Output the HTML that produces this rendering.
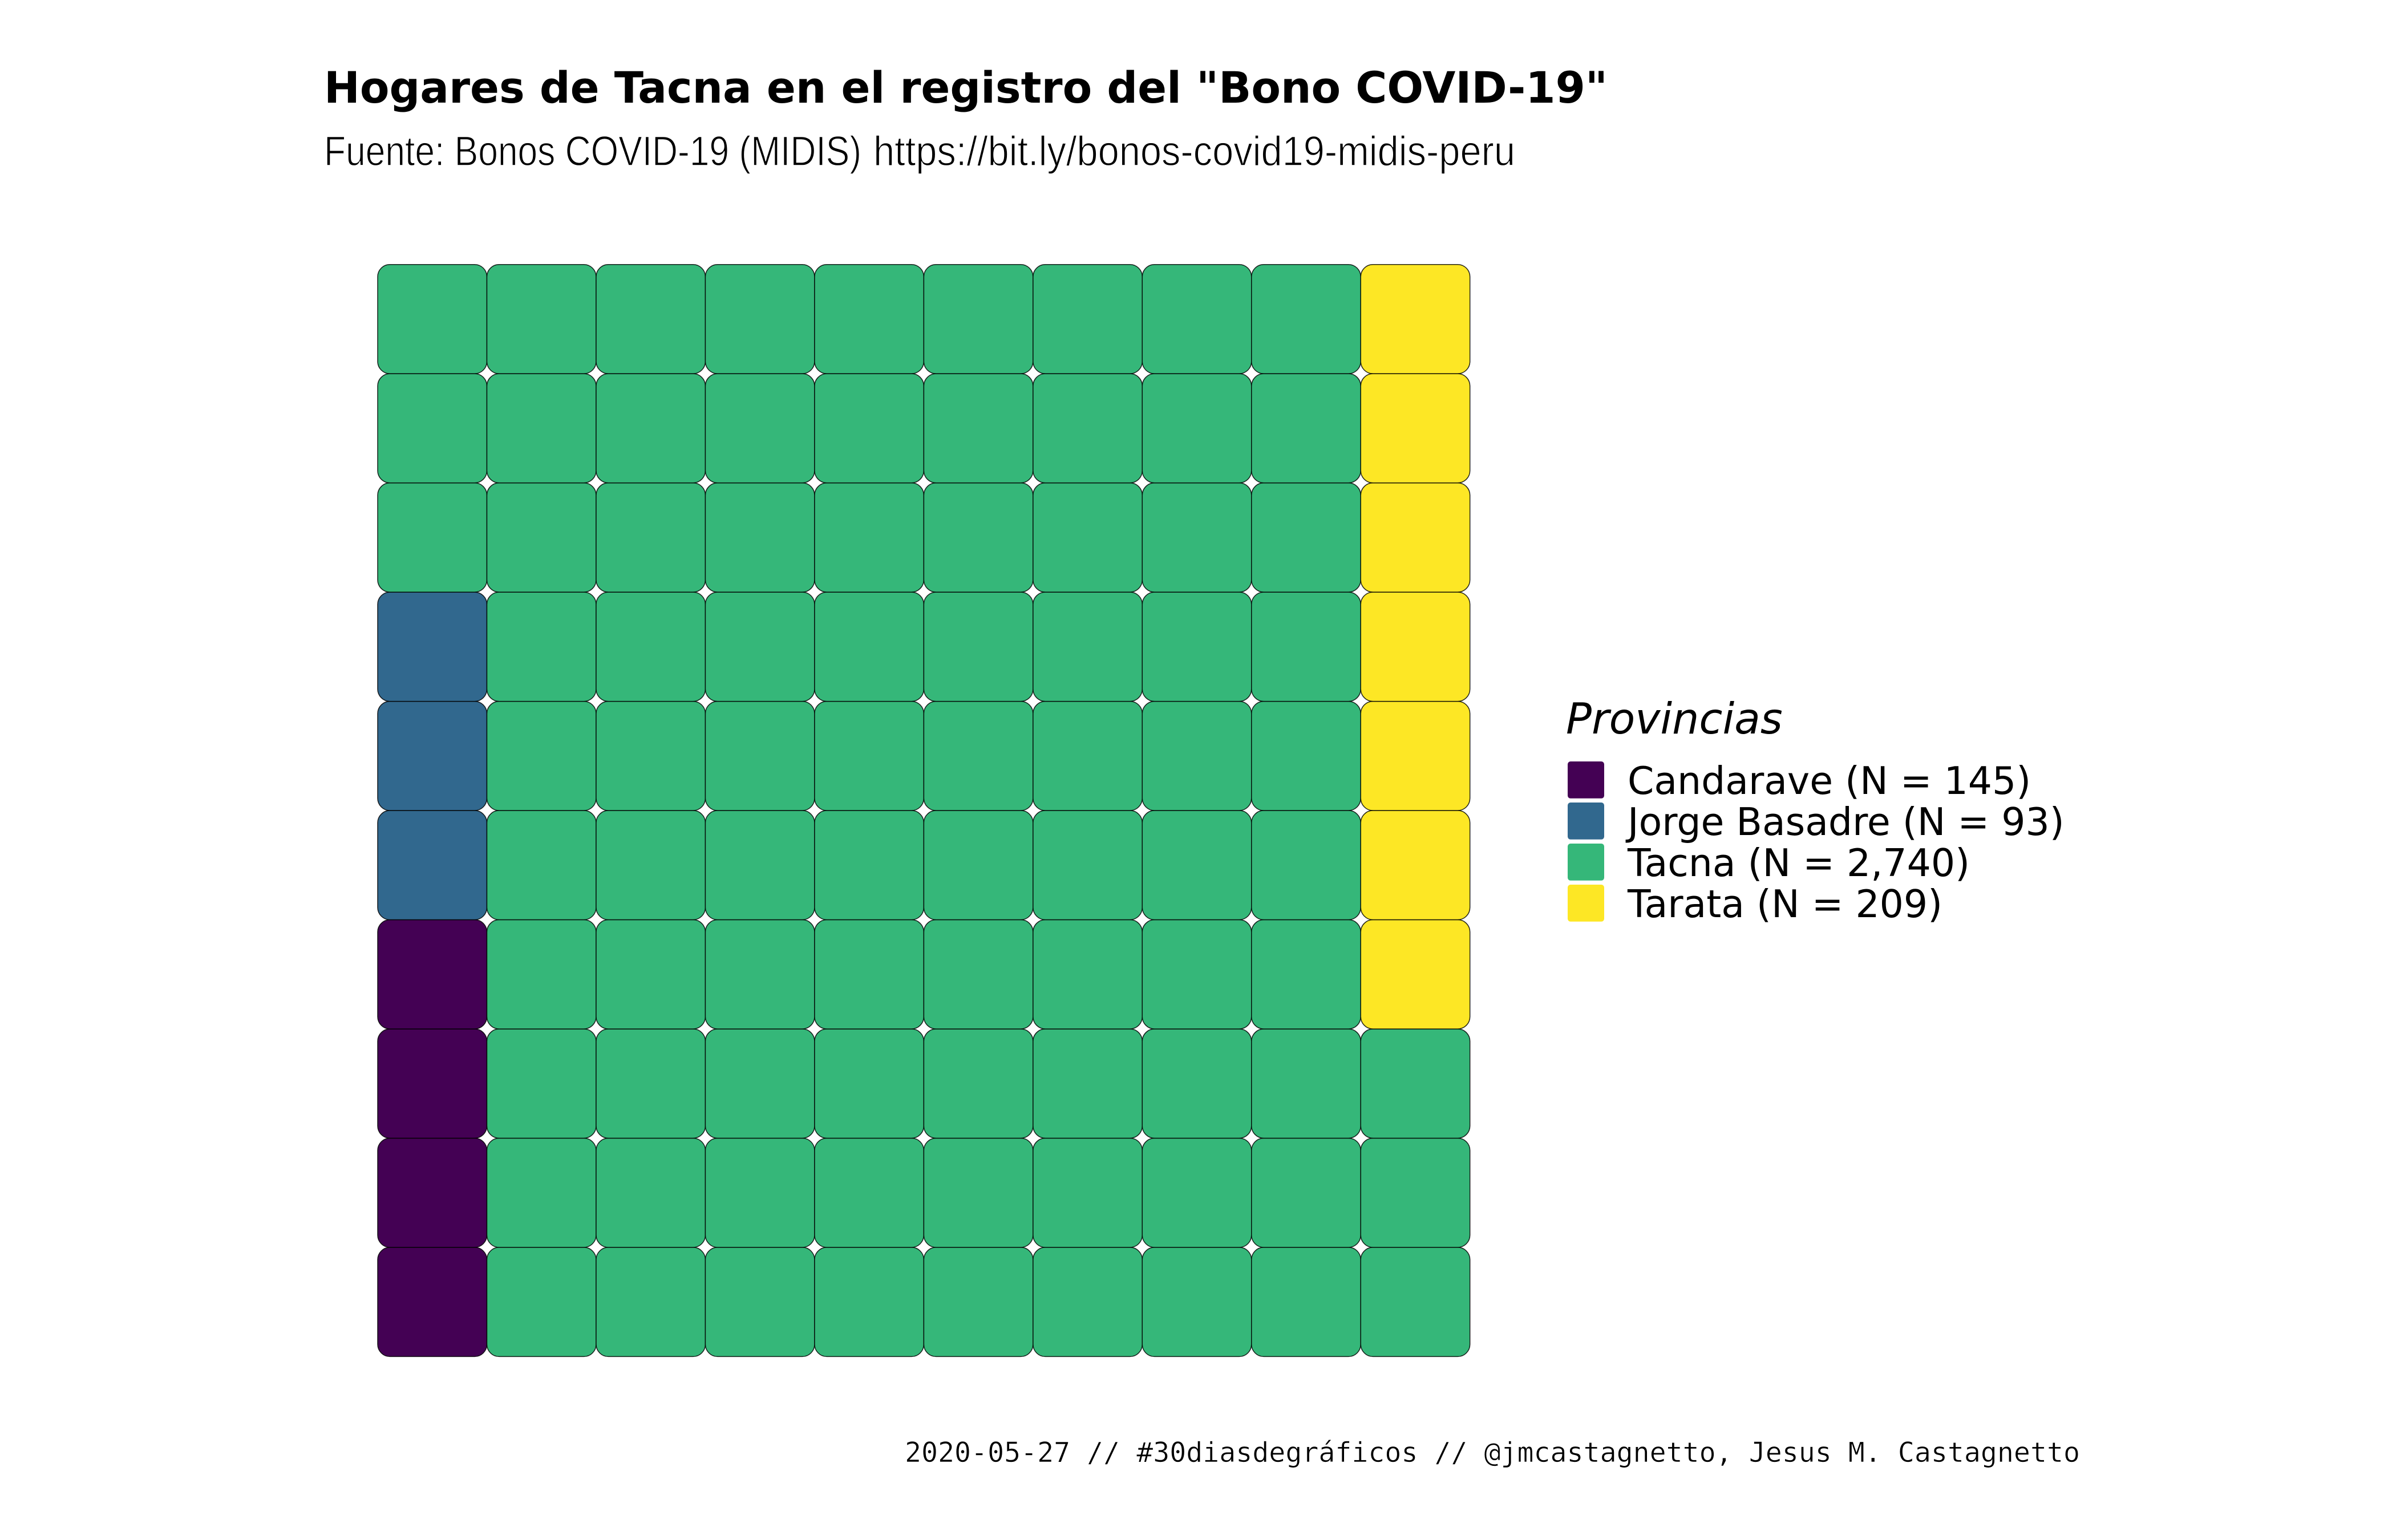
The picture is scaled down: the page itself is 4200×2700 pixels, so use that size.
<!DOCTYPE html>
<html lang="es">
<head>
<meta charset="utf-8">
<title>Hogares de Tacna en el registro del "Bono COVID-19"</title>
<style>
html,body{margin:0;padding:0;background:#fff;}
body{width:4200px;height:2700px;overflow:hidden;}
svg{display:block;}
</style>
</head>
<body>
<svg id="chart" xmlns="http://www.w3.org/2000/svg" width="4200" height="2700" viewBox="0 0 4200 2700">
  <rect x="0" y="0" width="4200" height="2700" fill="#ffffff"/>
  <text x="568" y="180" font-family="'DejaVu Sans',sans-serif" font-weight="700" font-size="75.5" textLength="2250" lengthAdjust="spacingAndGlyphs" fill="#000">Hogares de Tacna en el registro del "Bono COVID-19"</text>
  <text x="568" y="290" font-family="'Liberation Sans Narrow','Liberation Sans',sans-serif" font-size="73" textLength="942" lengthAdjust="spacingAndGlyphs" fill="#000" stroke="#fff" stroke-width="1.4">Fuente: Bonos COVID-19 (MIDIS)</text>
  <text x="1531" y="290" font-family="'Liberation Sans Narrow','Liberation Sans',sans-serif" font-size="73" textLength="1125" lengthAdjust="spacingAndGlyphs" fill="#000" stroke="#fff" stroke-width="1.4">https://bit.ly/bonos-covid19-midis-peru</text>
  <g id="cells"></g>
  <text x="2745" y="1286" font-family="'DejaVu Sans',sans-serif" font-style="italic" font-size="74.6" fill="#000">Provincias</text>
  <g id="legend"></g>
  <text x="1586" y="2563" font-family="'DejaVu Sans Mono',monospace" font-size="48" textLength="2060" lengthAdjust="spacingAndGlyphs" fill="#000" stroke="#fff" stroke-width="0.6">2020-05-27 // #30diasdegráficos // @jmcastagnetto, Jesus M. Castagnetto</text>
</svg>
<script>
const categories = ["Candarave", "Jorge Basadre", "Tacna", "Tarata"];
const householdCounts = [145, 93, 2740, 209];
const seriesColors = ["#440154", "#31688E", "#35B779", "#FDE725"];

const SVG_NS = "http://www.w3.org/2000/svg";
const GRID_SIZE = 10;
const gridLeft = 662;
const gridTop = 463.7;
const cellSize = 191.47;

function xScale(col) { return gridLeft + col * cellSize; }
function yScale(rowFromBottom) { return gridTop + (GRID_SIZE - 1 - rowFromBottom) * cellSize; }

function cellsPerCategory(values, totalCells) {
  const total = values.reduce(function (a, b) { return a + b; }, 0);
  const exact = values.map(function (v) { return v / total * totalCells; });
  const cells = exact.map(Math.floor);
  const left = totalCells - cells.reduce(function (a, b) { return a + b; }, 0);
  const order = exact
    .map(function (v, i) { return { i: i, rem: v - Math.floor(v) }; })
    .sort(function (a, b) { return b.rem - a.rem; });
  for (let k = 0; k < left; k++) { cells[order[k].i]++; }
  return cells;
}

const cellGroup = document.getElementById("cells");
const cellCounts = cellsPerCategory(householdCounts, GRID_SIZE * GRID_SIZE);
let position = 0;
cellCounts.forEach(function (count, seriesIndex) {
  for (let n = 0; n < count; n++) {
    const col = Math.floor(position / GRID_SIZE);
    const row = position % GRID_SIZE;
    const r = document.createElementNS(SVG_NS, "rect");
    r.setAttribute("x", xScale(col));
    r.setAttribute("y", yScale(row));
    r.setAttribute("width", cellSize);
    r.setAttribute("height", cellSize);
    r.setAttribute("rx", 21.5);
    r.setAttribute("ry", 21.5);
    r.setAttribute("fill", seriesColors[seriesIndex]);
    r.setAttribute("stroke", "#000");
    r.setAttribute("stroke-width", 1.5);
    r.setAttribute("stroke-opacity", 0.85);
    
    
    cellGroup.appendChild(r);
    position++;
  }
});

const legendGroup = document.getElementById("legend");
const legendTop = 1335;
const legendStep = 72;
categories.forEach(function (name, i) {
  const key = document.createElementNS(SVG_NS, "rect");
  key.setAttribute("x", 2748);
  key.setAttribute("y", legendTop + i * legendStep);
  key.setAttribute("width", 64);
  key.setAttribute("height", 64.8);
  key.setAttribute("rx", 5);
  key.setAttribute("ry", 5);
  key.setAttribute("fill", seriesColors[i]);
  
  
  legendGroup.appendChild(key);

  const label = document.createElementNS(SVG_NS, "text");
  label.setAttribute("x", 2853);
  label.setAttribute("y", legendTop + i * legendStep + 57);
  label.setAttribute("font-family", "'DejaVu Sans',sans-serif");
  label.setAttribute("font-size", 66.4);
  label.setAttribute("fill", "#000");
  label.textContent = name + " (N = " + householdCounts[i].toLocaleString("en-US") + ")";
  
  
  legendGroup.appendChild(label);
});
</script>
</body>
</html>
